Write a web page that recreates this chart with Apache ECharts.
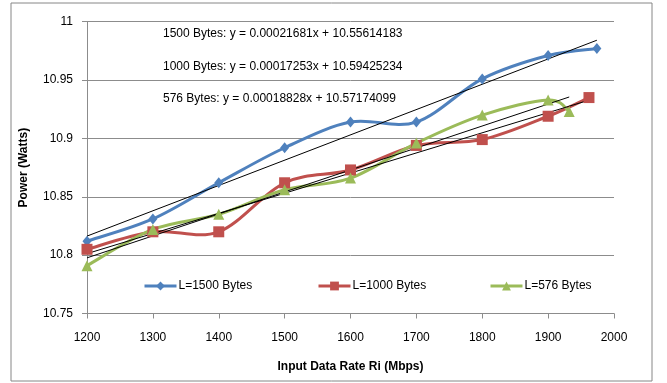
<!DOCTYPE html>
<html>
<head>
<meta charset="utf-8">
<script src="https://cdn.jsdelivr.net/npm/echarts@6/dist/echarts.min.js"></script>
<style>
html,body{margin:0;padding:0;background:#fff;}
#chart{width:667px;height:383px;}
</style>
</head>
<body>
<div id="chart"></div>
<script>
// ---- data ----
const seriesNames = ['L=1500 Bytes', 'L=1000 Bytes', 'L=576 Bytes'];
const rate1500 = [1200, 1300, 1400, 1500, 1600, 1700, 1800, 1900, 1974];
const power1500 = [10.812, 10.831, 10.862, 10.892, 10.914, 10.914, 10.951, 10.971, 10.977];
const rate1000 = [1200, 1300, 1400, 1500, 1600, 1700, 1800, 1900, 1962];
const power1000 = [10.805, 10.820, 10.820, 10.862, 10.873, 10.894, 10.899, 10.919, 10.935];
const rate576 = [1200, 1300, 1400, 1500, 1600, 1700, 1800, 1900, 1932];
const power576 = [10.791, 10.822, 10.835, 10.856, 10.866, 10.896, 10.920, 10.933, 10.923];
// trendline equations as printed on the chart
const trendLabels = ['1500 Bytes', '1000 Bytes', '576 Bytes'];
const trendSlopes = [0.00021681, 0.00017253, 0.00018828];
const trendIntercepts = [10.55614183, 10.59425234, 10.57174099];
const xTicks = [1200, 1300, 1400, 1500, 1600, 1700, 1800, 1900, 2000];
const yTickLabels = ['10.75', '10.8', '10.85', '10.9', '10.95', '11'];

const colors = ['#4F81BD', '#C0504D', '#9BBB59'];
const symbols = ['diamond', 'rect', 'triangle'];
const symbolSizes = [[9, 11], 11, 11];
const rates = [rate1500, rate1000, rate576];
const powers = [power1500, power1000, power576];

const FONT = '"Liberation Sans", Arial, sans-serif';
const GRID = '#8c8c8c';

const series = [];
// smoothed curves (Excel-style Catmull-Rom), drawn through the axis scales
for (let i = 0; i < 3; i++) {
  const pts = rates[i].map((x, k) => [x, powers[i][k]]);
  series.push({
    name: seriesNames[i] + ' curve',
    type: 'custom',
    data: pts,
    silent: true,
    z: 2,
    renderItem: function (params, api) {
      const k = params.dataIndex;
      const n = pts.length;
      if (k >= n - 1) return null;
      const P = idx => api.coord(pts[Math.max(0, Math.min(n - 1, idx))]);
      const p0 = P(k - 1), p1 = P(k), p2 = P(k + 1), p3 = P(k + 2);
      const t = 1 / 6;
      return {
        type: 'bezierCurve',
        shape: {
          x1: p1[0], y1: p1[1], x2: p2[0], y2: p2[1],
          cpx1: p1[0] + (p2[0] - p0[0]) * t, cpy1: p1[1] + (p2[1] - p0[1]) * t,
          cpx2: p2[0] - (p3[0] - p1[0]) * t, cpy2: p2[1] - (p3[1] - p1[1]) * t
        },
        style: { stroke: colors[i], lineWidth: 3, fill: null, lineCap: 'round' }
      };
    }
  });
}
// markers (and legend entries)
for (let i = 0; i < 3; i++) {
  series.push({
    name: seriesNames[i],
    type: 'line',
    data: rates[i].map((x, k) => [x, powers[i][k]]),
    symbol: symbols[i],
    symbolSize: symbolSizes[i],
    lineStyle: { color: colors[i], width: 3, opacity: 0 },
    itemStyle: { color: colors[i] },
    z: 5
  });
}
// trendlines
for (let i = 0; i < 3; i++) {
  const x0 = Math.min(...rates[i]);
  const x1 = Math.max(...rates[i]);
  series.push({
    name: 'trend ' + trendLabels[i],
    type: 'line',
    data: [[x0, trendSlopes[i] * x0 + trendIntercepts[i]], [x1, trendSlopes[i] * x1 + trendIntercepts[i]]],
    symbol: 'none',
    lineStyle: { color: '#000', width: 1 },
    silent: true,
    z: 4
  });
}

const annotations = trendLabels.map((lab, i) => ({
  type: 'text',
  left: 163,
  top: 28 + i * 32.5,
  style: {
    text: lab + ': y = ' + trendSlopes[i].toFixed(8) + 'x + ' + trendIntercepts[i].toFixed(8),
    font: '12px ' + FONT,
    fill: '#000'
  }
}));

const legendLefts = [143, 317, 489];
const legends = seriesNames.map((n, i) => ({
  data: [n],
  left: legendLefts[i],
  top: 280,
  itemWidth: 32,
  itemHeight: 11,
  itemGap: 2,
  lineStyle: { opacity: 1, width: 3 },
  textStyle: { fontFamily: FONT, fontSize: 12, color: '#000', padding: [0, 0, 0, -3] },
  padding: 0
}));

const chart = echarts.init(document.getElementById('chart'), null, { renderer: 'canvas' });
chart.setOption({
  backgroundColor: '#fff',
  animation: false,
  grid: { left: 87, right: 53, top: 21.7, bottom: 69.5 },
  legend: legends,
  xAxis: {
    type: 'value',
    min: xTicks[0],
    max: xTicks[xTicks.length - 1],
    interval: xTicks[1] - xTicks[0],
    name: 'Input Data Rate Ri (Mbps)',
    nameLocation: 'middle',
    nameGap: 47,
    nameTextStyle: { fontFamily: FONT, fontSize: 12, fontWeight: 'bold', color: '#000' },
    axisLine: { lineStyle: { color: GRID } },
    axisTick: { show: true, length: 5, lineStyle: { color: GRID } },
    axisLabel: { fontFamily: FONT, fontSize: 12, color: '#000', margin: 18, formatter: v => String(v) },
    splitLine: { show: false }
  },
  yAxis: {
    type: 'value',
    min: 10.75,
    max: 11,
    interval: 0.05,
    name: 'Power (Watts)',
    nameLocation: 'middle',
    nameGap: 57,
    nameRotate: 90,
    nameTextStyle: { fontFamily: FONT, fontSize: 12, fontWeight: 'bold', color: '#000' },
    axisLine: { show: true, lineStyle: { color: GRID } },
    axisTick: { show: true, length: 5, lineStyle: { color: GRID } },
    axisLabel: {
      fontFamily: FONT, fontSize: 12, color: '#000', margin: 14,
      formatter: v => {
        const idx = Math.round((v - 10.75) / 0.05);
        return yTickLabels[idx] !== undefined ? yTickLabels[idx] : String(v);
      }
    },
    splitLine: { show: true, lineStyle: { color: GRID, width: 1 } }
  },
  graphic: [
    {
      type: 'rect',
      shape: { x: 11, y: 3, width: 641, height: 378 },
      style: { fill: 'none', stroke: '#868686', lineWidth: 1 },
      silent: true
    }
  ].concat(annotations),
  series: series
});
</script>
</body>
</html>
